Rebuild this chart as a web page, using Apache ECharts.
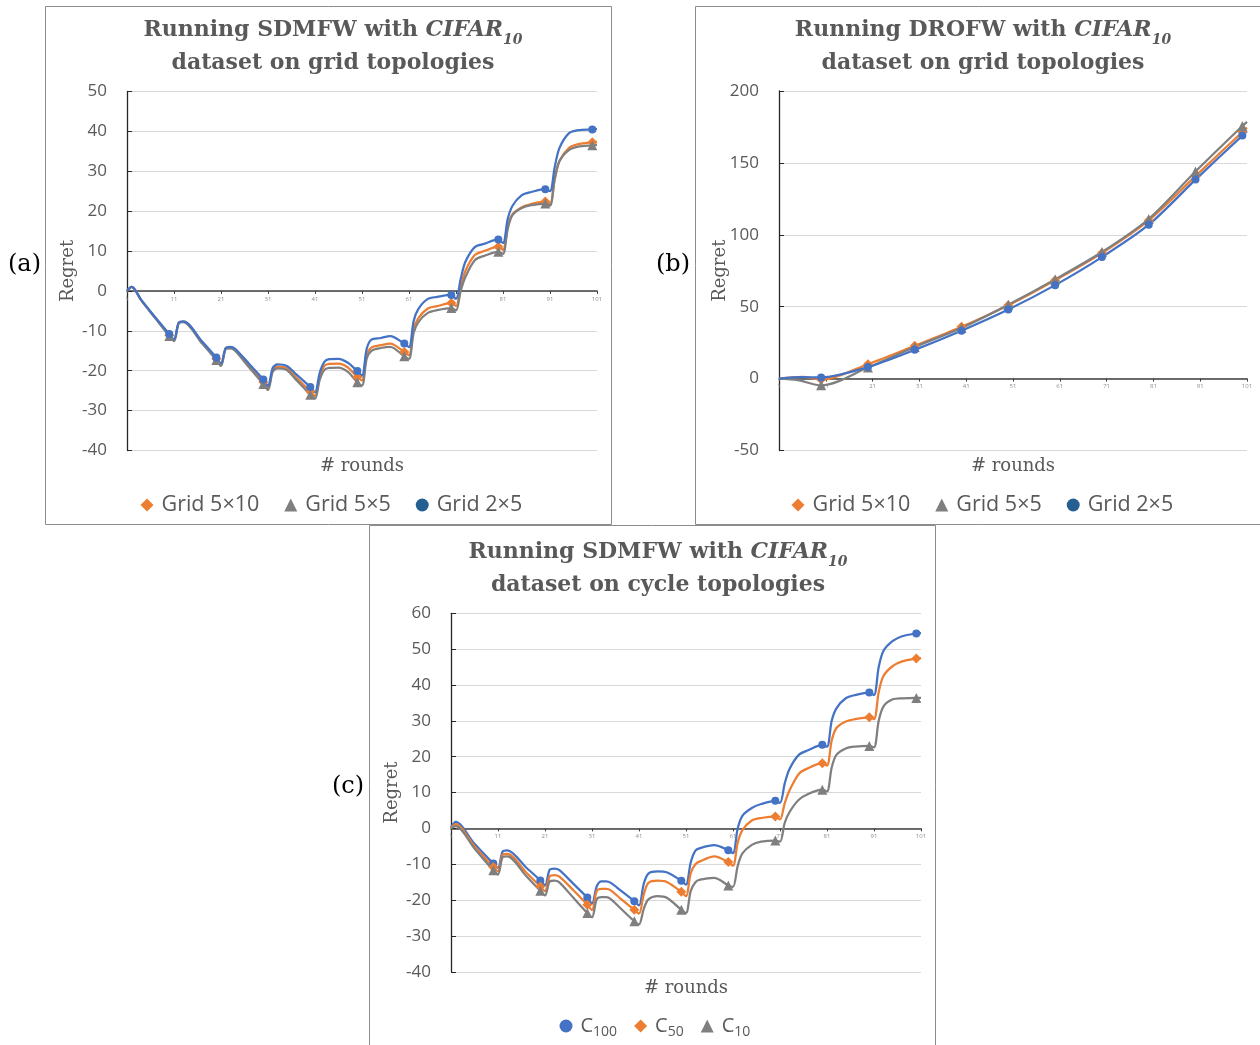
<!DOCTYPE html>
<html>
<head>
<meta charset="utf-8">
<script src="https://cdn.jsdelivr.net/npm/echarts@6/dist/echarts.min.js"></script>
<style>
  html, body { margin: 0; padding: 0; background: #fff; }
  #chart { width: 1260px; height: 1045px; }
</style>
</head>
<body>
<div id="chart"></div>
<script>
// Rounds 1..101 on the category x axis; a label every 10 rounds (1, 11, ..., 101)
const rounds = Array.from({ length: 101 }, (_, i) => String(i + 1));

// y axis ranges per panel
const yA = { min: -40, max: 50, interval: 10 };
const yB = { min: -50, max: 200, interval: 50 };
const yC = { min: -40, max: 60, interval: 10 };

// (a) SDMFW, grid topologies: [round, regret]
const sdmGrid5x10 = [[1,0],[2,1],[4,-2.3],[7,-6.7],[10,-11.1],[11,-12.4],[12,-8],[13,-7.7],[17,-13],[20,-17],[21,-18.5],[22,-14.4],[23,-14.2],[24,-14.7],[27,-18.8],[30,-22.8],[31,-24.3],[32,-19.8],[33,-19],[35,-19.4],[37,-21.7],[40,-25.2],[41,-26.3],[42,-21.5],[43,-18.8],[44,-18.3],[46,-18.2],[48,-19.2],[50,-21.6],[51,-22.4],[52,-16],[53,-14.2],[55,-13.6],[57,-13.2],[60,-15.3],[61,-16.1],[62,-9.5],[63,-6.8],[65,-4.4],[67,-3.8],[70,-3],[71,-3.8],[72,1],[73,5],[75,9],[77,10],[80,11.1],[81,10.3],[82,16],[83,19.2],[85,21],[87,21.8],[90,22.4],[91,21.8],[92,28],[93,32.5],[95,35.8],[97,36.8],[100,37.3],[101,37.4]];
const sdmGrid5x5 = [[1,0],[2,1],[4,-2.3],[7,-6.8],[10,-11.3],[11,-12.6],[12,-8.1],[13,-7.8],[17,-13.2],[20,-17.3],[21,-18.8],[22,-14.6],[23,-14.4],[24,-15],[27,-19.2],[30,-23.3],[31,-24.8],[32,-20.3],[33,-19.4],[35,-19.8],[37,-22.3],[40,-26],[41,-27],[42,-22.3],[43,-19.8],[44,-19.3],[46,-19.2],[48,-20.3],[50,-22.9],[51,-23.7],[52,-17],[53,-15],[55,-14.3],[57,-14],[60,-16.4],[61,-17],[62,-10.5],[63,-7.8],[65,-5.5],[67,-4.8],[70,-4.3],[71,-4.9],[72,0],[73,3.5],[75,7.7],[77,8.8],[80,9.8],[81,9.3],[82,15.5],[83,19],[85,20.8],[87,21.5],[90,21.9],[91,21.4],[92,28],[93,32.5],[95,35.3],[97,36.2],[100,36.5],[101,36.6]];
const sdmGrid2x5 = [[1,0],[2,1],[4,-2.2],[7,-6.6],[10,-10.8],[11,-12.2],[12,-8],[13,-7.6],[17,-12.7],[20,-16.7],[21,-18.2],[22,-14.3],[23,-14],[24,-14.5],[27,-18.3],[30,-22.2],[31,-23.8],[32,-19.3],[33,-18.4],[35,-18.8],[37,-20.9],[40,-24.1],[41,-25.4],[42,-20.5],[43,-17.8],[44,-17.1],[46,-17],[48,-18],[50,-20.1],[51,-21.2],[52,-14.5],[53,-12.2],[55,-11.8],[57,-11.3],[60,-13.2],[61,-14.1],[62,-7.5],[63,-4.5],[65,-2],[67,-1.5],[70,-1],[71,-2],[72,3],[73,7.3],[75,11],[77,11.8],[80,12.9],[81,12],[82,18],[83,21.3],[85,24],[87,24.8],[90,25.5],[91,25],[92,31],[93,35.8],[95,39.5],[97,40.3],[100,40.5],[101,40.6]];

// (b) DROFW, grid topologies
const droGrid5x10 = [[1,0],[6,1.2],[10,-0.7],[20,10],[30,22.8],[40,36],[50,51],[60,68.4],[70,87.3],[80,110],[90,140.8],[100,171.5],[101,174.5]];
const droGrid5x5 = [[1,0],[5,-1],[10,-4.7],[20,7.7],[30,22],[40,35.2],[50,51.4],[60,69],[70,88],[80,111],[90,144],[100,175.6],[101,178.5]];
const droGrid2x5 = [[1,0],[6,1],[10,0.8],[20,8],[30,20],[40,33.3],[50,48],[60,65],[70,84.5],[80,107],[90,138.4],[100,169],[101,172]];

// (c) SDMFW, cycle topologies
const cycC100 = [[1,0.3],[2,1.8],[6,-4.3],[10,-9.8],[11,-11],[12,-6.4],[13,-6.1],[17,-10.9],[20,-14.5],[21,-15.9],[22,-11.5],[23,-11.2],[24,-11.6],[27,-15.4],[30,-19.3],[31,-21],[32,-16.2],[33,-14.8],[34,-14.8],[35,-15.2],[37,-17.2],[40,-20.3],[41,-21.5],[42,-15.5],[43,-12.6],[45,-12],[47,-12.3],[50,-14.6],[51,-15.7],[52,-9.5],[53,-6.2],[54,-5.5],[57,-4.7],[60,-6.1],[61,-6.9],[62,0],[63,3.5],[65,5.7],[67,6.8],[70,7.7],[71,7.1],[72,12.5],[73,16.5],[75,20.5],[77,21.8],[80,23.3],[81,22.8],[82,30],[83,33.5],[85,36.3],[87,37.2],[90,37.9],[91,37.2],[92,45],[93,49.5],[95,52.3],[97,53.6],[100,54.4],[101,54.5]];
const cycC50 = [[1,0.2],[2,1.2],[6,-5],[10,-10.8],[11,-12],[12,-7.3],[13,-7.1],[17,-12.3],[20,-16.2],[21,-17.5],[22,-13.4],[23,-13],[24,-13.4],[27,-17.2],[30,-21.3],[31,-22.8],[32,-17.5],[33,-16.9],[34,-16.9],[35,-17.3],[37,-19.5],[40,-22.7],[41,-23.8],[42,-18.5],[43,-15.2],[45,-14.6],[47,-15],[50,-17.7],[51,-18.9],[52,-12.5],[53,-10],[54,-9.2],[57,-7.8],[60,-9.4],[61,-10.4],[62,-4],[63,-0.5],[65,2.2],[67,2.9],[70,3.3],[71,2.5],[72,7],[73,10.5],[75,15.2],[77,16.8],[80,18.2],[81,17.5],[82,24.5],[83,28],[85,29.8],[87,30.5],[90,31],[91,30.5],[92,38],[93,42.5],[95,45.3],[97,46.6],[100,47.4],[101,47.5]];
const cycC10 = [[1,0],[2,0.6],[6,-5.6],[10,-11.7],[11,-12.9],[12,-8],[13,-7.8],[17,-13.3],[20,-17.4],[21,-18.7],[22,-14.8],[23,-14.6],[24,-15],[27,-19.3],[30,-23.6],[31,-24.8],[32,-19.8],[33,-19.2],[34,-19.2],[35,-19.7],[37,-22.2],[40,-25.9],[41,-26.8],[42,-22.5],[43,-19.8],[45,-18.9],[47,-19.4],[50,-22.7],[51,-23.6],[52,-17.5],[53,-15],[54,-14.3],[57,-13.8],[60,-15.9],[61,-16.3],[62,-10.5],[63,-7],[65,-4.6],[67,-3.7],[70,-3.4],[71,-3.7],[72,1.5],[73,4.5],[75,8],[77,9.6],[80,10.8],[81,10.3],[82,17],[83,20.5],[85,22.3],[87,22.8],[90,23],[91,22.6],[92,30],[93,34],[95,36],[97,36.3],[100,36.4],[101,36.4]];

const BLUE = '#4472C4', ORANGE = '#ED7D31', GRAY = '#7F7F7F', DARKBLUE = '#255E91';
const TXT = '#595959';
const SANS = '"Open Sans", "Noto Sans", sans-serif';
const SERIF = '"DejaVu Serif", serif';

// Plot rectangles of the three panels
const grids = [
  { left: 127, top: 91.5, width: 470, height: 359 },
  { left: 779, top: 91, width: 468, height: 359.5 },
  { left: 451, top: 613.3, width: 470, height: 358.5 }
];
const ranges = [yA, yB, yC];

// x axis drawn through regret = 0, labels directly under it
function xAxisFor(i) {
  const r = ranges[i];
  const zeroFromBottom = grids[i].height * (0 - r.min) / (r.max - r.min);
  return {
    type: 'category', gridIndex: i, data: rounds, boundaryGap: false,
    position: 'bottom', offset: -zeroFromBottom,
    axisLine: { onZero: false, lineStyle: { color: '#404040', width: 1.5 } },
    axisTick: { show: true, interval: 9, length: 3, lineStyle: { color: '#404040' } },
    axisLabel: { interval: 9, fontSize: 6, color: '#8c8c8c', margin: 5, fontFamily: SANS },
    splitLine: { show: false }
  };
}

function yAxisFor(i) {
  const r = ranges[i];
  return {
    type: 'value', gridIndex: i, min: r.min, max: r.max, interval: r.interval,
    name: 'Regret', nameLocation: 'middle', nameRotate: 90, nameGap: 50,
    nameMoveOverlap: false,
    nameTextStyle: { fontFamily: SERIF, fontSize: 18, color: TXT },
    axisLine: { show: true, onZero: false, lineStyle: { color: '#262626', width: 1.3 } },
    axisTick: { show: true, inside: true, length: 5, lineStyle: { color: '#262626' } },
    axisLabel: { fontFamily: SANS, fontSize: 17, color: TXT, margin: 20 },
    splitLine: { show: true, lineStyle: { color: '#D9D9D9', width: 1 } }
  };
}

// One line per topology; markers only every 10 rounds
function lineSeries(name, pts, idx, color, symbol, size) {
  return {
    name, type: 'line', xAxisIndex: idx, yAxisIndex: idx,
    smooth: 0.3,
    symbol, symbolSize: size, showSymbol: true, showAllSymbol: true,
    lineStyle: { color, width: 2.25 }, itemStyle: { color },
    data: pts.map(([r, v]) => r % 10 === 0 ? [String(r), v] : { value: [String(r), v], symbol: 'none' }),
    emphasis: { disabled: true }, silent: true
  };
}

function titleFor(x, top, line1Algo, line2) {
  return {
    left: x, top, textAlign: 'center',
    text: '{b|Running ' + line1Algo + ' with }{i|CIFAR}{s|10}\n{b|' + line2 + '}',
    textStyle: {
      rich: {
        b: { fontFamily: SERIF, fontWeight: 'bold', fontSize: 22, color: TXT, lineHeight: 32 },
        i: { fontFamily: SERIF, fontWeight: 'bold', fontStyle: 'italic', fontSize: 22, color: TXT, lineHeight: 32 },
        s: { fontFamily: SERIF, fontWeight: 'bold', fontStyle: 'italic', fontSize: 14, color: TXT, lineHeight: 33, verticalAlign: 'bottom' }
      }
    }
  };
}

const gridLegendData = [
  { name: 'Grid 5×10', icon: 'diamond' },
  { name: 'Grid 5×5', icon: 'triangle' },
  { name: 'Grid 2×5', icon: 'circle', itemStyle: { color: DARKBLUE } }
];
const legendText = { fontFamily: SANS, fontSize: 21.5, color: TXT, padding: [0, 0, 0, 3] };
const legendBase = { itemWidth: 13, itemHeight: 13, selectedMode: false };

function labelText(x, y, text, font, color, align) {
  return { type: 'text', x, y, silent: true,
    style: { text, font, fill: color, align: align || 'left', textAlign: align || 'left', verticalAlign: 'middle', textVerticalAlign: 'middle' } };
}
function box(x, y, w, h) {
  return { type: 'rect', silent: true, shape: { x, y, width: w, height: h },
    style: { fill: 'none', stroke: '#8C8C8C', lineWidth: 1 } };
}

const option = {
  animation: false,
  backgroundColor: '#ffffff',
  title: [
    titleFor(328, 9, 'SDMFW', 'dataset on grid topologies'),
    titleFor(978, 9, 'DROFW', 'dataset on grid topologies'),
    titleFor(653, 531, 'SDMFW', 'dataset on cycle topologies')
  ],
  grid: grids,
  xAxis: [xAxisFor(0), xAxisFor(1), xAxisFor(2)],
  yAxis: [yAxisFor(0), yAxisFor(1), yAxisFor(2)],
  legend: [
    Object.assign({ left: 135.5, top: 489, itemGap: 25, textStyle: legendText, data: gridLegendData }, legendBase),
    Object.assign({ left: 786.5, top: 489, itemGap: 25, textStyle: legendText, data: gridLegendData }, legendBase),
    Object.assign({ left: 554.5, top: 1011, itemGap: 17,
      formatter: n => '{c|C}{s|' + n.slice(1) + '}',
      textStyle: { padding: [0, 0, 0, 3], rich: {
        c: { fontFamily: SANS, fontSize: 20, color: TXT, lineHeight: 26 },
        s: { fontFamily: SANS, fontSize: 14, color: TXT, lineHeight: 27, verticalAlign: 'bottom' }
      } },
      data: [{ name: 'C100', icon: 'circle' }, { name: 'C50', icon: 'diamond' }, { name: 'C10', icon: 'triangle' }] }, legendBase)
  ],
  graphic: [
    box(45.5, 6.5, 566, 518),
    box(695.5, 6.5, 570, 518),
    box(369.5, 525.5, 566, 525),
    labelText(8, 265, '(a)', '24px "DejaVu Serif"', '#000'),
    labelText(656, 265, '(b)', '24px "DejaVu Serif"', '#000'),
    labelText(332, 787, '(c)', '24px "DejaVu Serif"', '#000'),
    labelText(362, 466, '# rounds', '18px "DejaVu Serif"', TXT, 'center'),
    labelText(1013, 466, '# rounds', '18px "DejaVu Serif"', TXT, 'center'),
    labelText(686, 988, '# rounds', '18px "DejaVu Serif"', TXT, 'center')
  ],
  series: [
    lineSeries('Grid 5×10', sdmGrid5x10, 0, ORANGE, 'diamond', 10),
    lineSeries('Grid 5×5', sdmGrid5x5, 0, GRAY, 'triangle', 10),
    lineSeries('Grid 2×5', sdmGrid2x5, 0, BLUE, 'circle', 8),
    lineSeries('Grid 5×10', droGrid5x10, 1, ORANGE, 'diamond', 10),
    lineSeries('Grid 5×5', droGrid5x5, 1, GRAY, 'triangle', 10),
    lineSeries('Grid 2×5', droGrid2x5, 1, BLUE, 'circle', 8),
    lineSeries('C100', cycC100, 2, BLUE, 'circle', 8),
    lineSeries('C50', cycC50, 2, ORANGE, 'diamond', 10),
    lineSeries('C10', cycC10, 2, GRAY, 'triangle', 10)
  ]
};

const chart = echarts.init(document.getElementById('chart'), null, { renderer: 'canvas' });
chart.setOption(option);
</script>
</body>
</html>
